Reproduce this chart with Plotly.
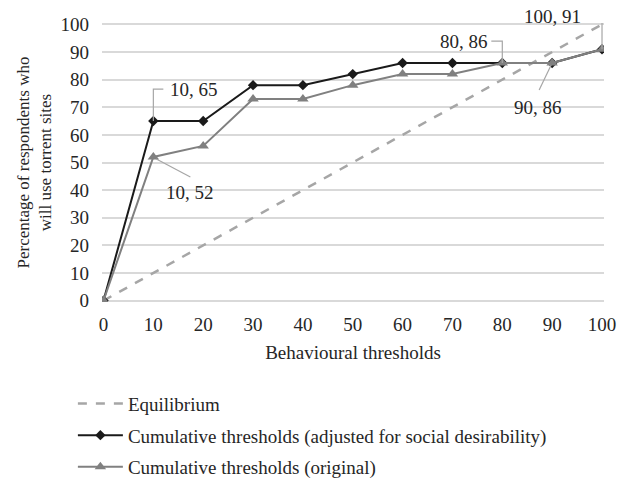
import plotly.graph_objects as go

thresholds = [0, 10, 20, 30, 40, 50, 60, 70, 80, 90, 100]
equilibrium = [0, 10, 20, 30, 40, 50, 60, 70, 80, 90, 100]
adjusted = [0, 65, 65, 78, 78, 82, 86, 86, 86, 86, 91]
original = [0, 52, 56, 73, 73, 78, 82, 82, 86, 86, 91]
y_ticks = [0, 10, 20, 30, 40, 50, 60, 70, 80, 90, 100]

# labelled points: (x, y, text, text offset px (dx, dy up), leader path in px)
labels = [
    (10, 65, "10, 65", (41, 32), "M0,0 L0,32 L10,32"),
    (10, 52, "10, 52", (37, -36), "M3,-2 L37,-20"),
    (80, 86, "80, 86", (-38, 22), "M0,0 L0,22 L-11,22"),
    (90, 86, "90, 86", (-14, -44), "M-1,-2 L-13,-27"),
    (100, 91, "100, 91", (-50, 33), "M0,0 L0,33 L-13,33"),
]

FONT = "Liberation Serif, Times New Roman, serif"
TXT = "#262626"


def f(size):
    return dict(family=FONT, size=size, color=TXT)


fig = go.Figure()
fig.add_trace(go.Scatter(
    x=thresholds, y=equilibrium, mode="lines", name="Equilibrium",
    line=dict(color="#a6a6a6", width=2.5, dash="dash"), legendgroup="a"))
fig.add_trace(go.Scatter(
    x=thresholds, y=adjusted, mode="lines+markers",
    name="Cumulative thresholds (adjusted for social desirability)",
    line=dict(color="#1a1a1a", width=2),
    marker=dict(symbol="diamond", size=8, color="#1a1a1a"), legendgroup="b"))
fig.add_trace(go.Scatter(
    x=thresholds, y=original, mode="lines+markers",
    name="Cumulative thresholds (original)",
    line=dict(color="#808080", width=2),
    marker=dict(symbol="triangle-up", size=10, color="#808080"), legendgroup="c"))

for (x, y, txt, (dx, dy), path) in labels:
    fig.add_annotation(x=x, y=y, xref="x", yref="y", text=txt, showarrow=False,
                       xshift=dx, yshift=dy, font=f(19))
    fig.add_shape(type="path", xref="x", yref="y", xsizemode="pixel", ysizemode="pixel",
                  xanchor=x, yanchor=y, path=path,
                  line=dict(color="#a6a6a6", width=1.2))

fig.update_layout(
    width=628, height=480,
    margin=dict(l=102, r=24, t=23, b=178, autoexpand=False),
    paper_bgcolor="white", plot_bgcolor="white",
    font=f(19),
    legend=dict(x=-0.058, y=-0.296, xanchor="left", yanchor="top",
                orientation="v", tracegroupgap=4, itemwidth=45,
                font=f(19)),
    showlegend=True,
)
fig.update_xaxes(range=[-0.3, 100.4], tickvals=thresholds, showgrid=False,
                 zeroline=False, showline=False, ticks="", automargin=False,
                 tickfont=f(19), ticklabelstandoff=9,
                 title=dict(text="Behavioural thresholds", standoff=11, font=f(19)))
fig.update_yaxes(range=[-0.5, 100.5], tickvals=y_ticks, showgrid=True,
                 gridcolor="#d9d9d9", gridwidth=1.5, zeroline=False, showline=False,
                 ticks="", ticklabelstandoff=12, automargin=False,
                 tickfont=f(19),
                 title=dict(text="Percentage of respondents who<br>will use torrent sites",
                            standoff=4, font=f(17)))

fig.write_html("out.html", post_script="document.body.style.margin='0';",
               config={"displayModeBar": False})
